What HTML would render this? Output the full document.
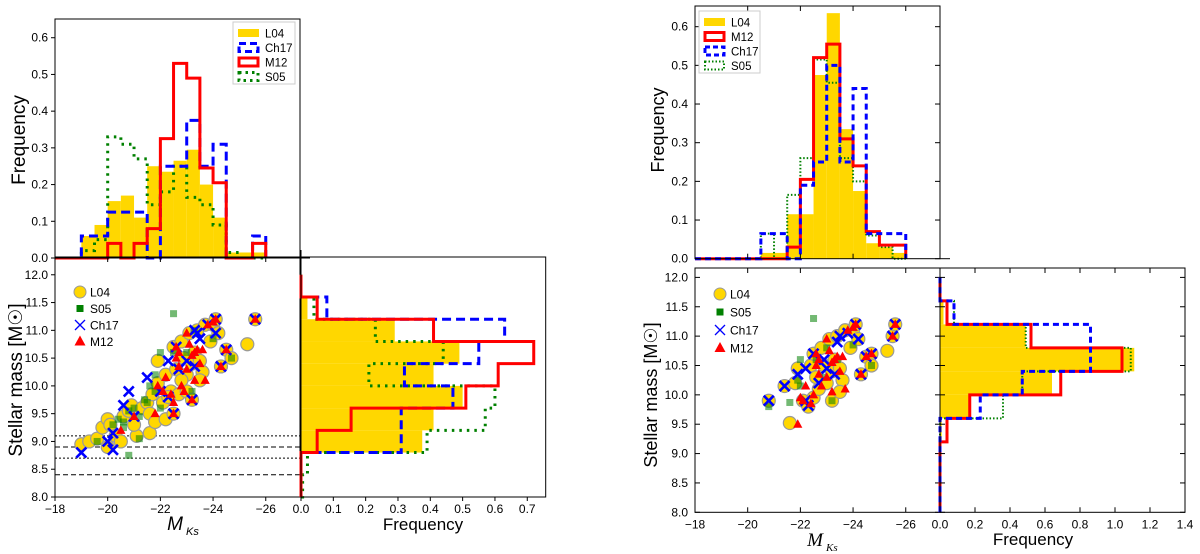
<!DOCTYPE html>
<html><head><meta charset="utf-8"><style>
html,body{margin:0;padding:0;background:#fff;}
svg{display:block;font-family:"Liberation Sans","DejaVu Sans",sans-serif;}
</style></head><body>
<svg id="fig" width="1200" height="554" viewBox="0 0 1200 554" xmlns="http://www.w3.org/2000/svg"></svg>
<script>
// ---------- DATA ----------
const magEdges = [-18,-18.5,-19,-19.5,-20,-20.5,-21,-21.5,-22,-22.5,-23,-23.5,-24,-24.5,-25,-25.5,-26];
const massEdges = [8.0,8.4,8.8,9.2,9.6,10.0,10.4,10.8,11.2,11.6,12.0];
const topL_L04  = [0,0,0.06,0.09,0.155,0.17,0.11,0.25,0.235,0.265,0.295,0.2,0.11,0.015,0.015,0.015];
const topL_Ch17 = [0,0,0.06,0.06,0.125,0.125,0.125,0,0.25,0.25,0.375,0.25,0.31,0,0,0.06];
const topL_M12  = [0,0,0,0,0.04,0,0.04,0.08,0.325,0.53,0.49,0.245,0.205,0,0,0.04];
const topL_S05  = [0,0,0.02,0.05,0.33,0.31,0.27,0.145,0.18,0.25,0.165,0.145,0.09,0.015,0,0];
const rhL_L04  = [0,0,0.375,0.41,0.5,0.41,0.49,0.29,0.02,0];
const rhL_Ch17 = [0,0,0.31,0.31,0.47,0.32,0.55,0.63,0.08,0];
const rhL_M12  = [0,0,0.05,0.155,0.51,0.61,0.72,0.41,0.05,0];
const rhL_S05  = [0.005,0.02,0.39,0.57,0.6,0.21,0.44,0.23,0.04,0];
const topR_L04  = [0,0,0,0,0,0.015,0.015,0.115,0.115,0.475,0.635,0.335,0.175,0.04,0.03,0.015];
const topR_M12  = [0,0,0,0,0,0,0,0.03,0.205,0.52,0.555,0.31,0.24,0.07,0.035,0.035];
const topR_Ch17 = [0,0,0,0,0,0.065,0.065,0,0.19,0.25,0.5,0.25,0.44,0.065,0.065,0.065];
const topR_S05  = [0,0,0,0,0,0.065,0,0.165,0.26,0.515,0.455,0.26,0.2,0.06,0.03,0];
const rhR_L04  = [0,0,0,0.01,0.17,0.64,1.11,0.49,0.02,0];
const rhR_M12  = [0,0,0,0.04,0.17,0.69,1.04,0.52,0.04,0];
const rhR_Ch17 = [0,0,0,0,0.23,0.47,0.86,0.86,0.08,0];
const rhR_S05  = [0,0,0,0,0.36,0.47,1.09,0.49,0.08,0];
const scL_L04 = [[-19,8.95],[-19.3,9.0],[-19.6,9.05],[-19.8,9.25],[-20,9.4],[-20.1,9.3],[-20,8.9],[-20.3,9.1],[-20.5,9.0],[-20.6,9.45],[-20.8,9.55],[-20.9,9.65],[-21.1,9.1],[-21,9.3],[-21.3,9.6],[-21.5,9.7],[-21.6,9.15],[-21.6,9.5],[-21.8,9.35],[-21.7,9.85],[-21.9,10.05],[-21.9,10.45],[-22.1,9.7],[-22.2,10.2],[-22.2,9.4],[-22.4,9.9],[-22.5,9.5],[-22.5,10.7],[-22.6,10.3],[-22.7,9.85],[-22.8,10.8],[-22.9,10.5],[-23,9.9],[-23,10.2],[-23.1,10.95],[-23.2,9.75],[-23.2,10.4],[-23.3,10.6],[-23.4,11.0],[-23.5,10.45],[-23.6,10.25],[-23.7,11.1],[-23.9,10.8],[-24,11.1],[-24.1,11.2],[-24.2,10.95],[-24.3,10.35],[-24.5,10.65],[-24.7,10.5],[-25.3,10.75],[-25.6,11.2],[-22.3,9.8],[-22.8,10.1],[-23.5,10.1]];
const scL_S05 = [[-19.6,9.0],[-20.2,9.3],[-20.4,9.4],[-20.6,9.35],[-20.8,9.55],[-21,9.6],[-21.2,9.05],[-21.4,9.75],[-21.5,9.7],[-21.6,10.0],[-21.8,10.2],[-22,10.6],[-22.5,11.3],[-20.8,8.75],[-22.0,9.6],[-22.5,10.6],[-23,10.6],[-23.3,11.0],[-24,10.85],[-24.7,10.5],[-23.2,9.9],[-21.8,9.9],[-21.2,9.45],[-20.6,9.25]];
const scL_Ch17 = [[-19,8.8],[-20,9.0],[-20.2,9.15],[-20.2,8.85],[-20.6,9.65],[-20.8,9.9],[-21,9.45],[-21.5,10.15],[-22,9.9],[-22.3,10.45],[-22.3,9.8],[-22.5,9.5],[-22.6,10.7],[-22.7,10.3],[-23,10.45],[-23.2,9.75],[-23.3,10.35],[-23.4,10.95],[-23.5,10.85],[-24.1,11.2],[-24.1,10.95],[-24.3,10.35],[-24.5,10.65],[-25.6,11.2],[-23.8,11.1],[-23.3,11.0]];
const scL_M12 = [[-20.5,9.2],[-21.0,9.45],[-21.8,9.5],[-21.9,10.0],[-22.1,9.9],[-22.2,10.15],[-22.4,9.85],[-22.5,9.7],[-22.5,9.5],[-22.6,10.5],[-22.7,10.35],[-22.7,10.6],[-22.8,10.0],[-22.9,9.9],[-23,10.3],[-23.1,10.75],[-23.2,9.75],[-23.3,10.6],[-23.3,10.1],[-23.4,10.65],[-23.5,10.4],[-23.6,10.65],[-23.7,10.1],[-23.8,11.1],[-24,11.15],[-24.1,11.2],[-24.3,10.35],[-24.5,10.65],[-25.6,11.2],[-23.0,10.95],[-22.6,10.7],[-23.2,10.55]];
const scR_L04 = [[-20.8,9.9],[-21.4,10.15],[-21.6,9.52],[-21.9,10.45],[-21.8,10.2],[-22.1,9.9],[-22.3,9.8],[-22.4,10.5],[-22.5,10.7],[-22.5,9.95],[-22.6,10.3],[-22.7,10.1],[-22.8,10.8],[-22.9,10.5],[-23,10.2],[-23.1,10.95],[-23.2,9.9],[-23.2,10.4],[-23.3,10.6],[-23.4,11.0],[-23.5,10.45],[-23.6,10.25],[-23.7,11.1],[-23.9,10.8],[-24,11.1],[-24.1,11.2],[-24.2,10.95],[-24.3,10.35],[-24.5,10.65],[-24.7,10.7],[-24.7,10.5],[-25.3,10.75],[-25.5,11.0],[-25.6,11.2],[-23.5,10.05]];
const scR_S05 = [[-20.8,9.8],[-21.6,9.87],[-22,10.6],[-22.5,11.3],[-21.9,10.25],[-22,10.15],[-22.6,10.6],[-23,10.8],[-23.2,9.9],[-24,10.85],[-24.7,10.5],[-23.4,10.6],[-22.9,10.3]];
const scR_Ch17 = [[-20.8,9.9],[-21.4,10.15],[-21.9,10.35],[-22.2,10.45],[-22.3,9.82],[-22.5,10.7],[-22.7,10.2],[-23,10.45],[-23.3,10.35],[-23.4,10.9],[-23.5,11.0],[-23.8,11.05],[-24.1,11.2],[-24.2,10.95],[-24.3,10.35],[-24.5,10.65],[-24.7,10.7],[-25.5,11.0],[-25.6,11.2],[-22.9,10.6],[-22.2,9.9]];
const scR_M12 = [[-21.9,9.5],[-22,9.95],[-22.1,9.9],[-22.2,10.15],[-22.4,9.85],[-22.5,10.0],[-22.6,10.5],[-22.7,10.35],[-22.7,10.6],[-22.8,10.15],[-23,10.3],[-23.1,10.75],[-23.2,10.05],[-23.3,10.6],[-23.4,10.65],[-23.5,10.4],[-23.6,10.65],[-23.7,10.1],[-23.8,11.1],[-24,11.15],[-24.1,11.2],[-24.3,10.35],[-24.5,10.65],[-24.7,10.7],[-25.5,11.0],[-25.6,11.2],[-23.0,10.95],[-22.6,10.7],[-23.2,10.55]];
const magTicks = [-18,-20,-22,-24,-26];
const magTickLabels = ["\u221218","\u221220","\u221222","\u221224","\u221226"];
const massTicks = [8.0,8.5,9.0,9.5,10.0,10.5,11.0,11.5,12.0];
const freqTicksTop = [0,0.1,0.2,0.3,0.4,0.5,0.6];
const freqTicksL = [0,0.1,0.2,0.3,0.4,0.5,0.6,0.7];
const freqTicksR = [0,0.2,0.4,0.6,0.8,1.0,1.2,1.4];
const limitLines = [[9.1,"2,2"],[8.9,"5,3"],[8.7,"2,2"],[8.4,"5,3"]];

// ---------- HELPERS ----------
const svg = document.getElementById('fig');
const NS = 'http://www.w3.org/2000/svg';
function mk(tag, attrs, parent){const e=document.createElementNS(NS,tag);for(const k in attrs)e.setAttribute(k,attrs[k]);(parent||svg).appendChild(e);return e;}
function scale(d0,d1,r0,r1){return v=>r0+(v-d0)*(r1-r0)/(d1-d0);}
function ax(x0,x1,y0,y1,xd,yd){return {x0,x1,y0,y1,sx:scale(xd[0],xd[1],x0,x1),sy:scale(yd[0],yd[1],y1,y0)};}
const topL = ax(55,300,19,258,[-18,-27.3],[0,0.651]);
const scL  = ax(55,300,257,497,[-18,-27.3],[8,12.32]);
const rhL  = ax(301,545.7,257,497,[0,0.757],[8,12.32]);
const topR = ax(695,940,6,258.7,[-18,-27.3],[0,0.6535]);
const scR  = ax(695,940,268,512.3,[-18,-27.3],[8,12.16]);
const rhR  = ax(940,1185,268,512.3,[0,1.4],[8,12.16]);

function frame(a,name){const r=mk('rect',{x:a.x0,y:a.y0,width:a.x1-a.x0,height:a.y1-a.y0,fill:'none',stroke:'#000','stroke-width':1});
}
function vhist(a,vals,style,fill,name){
  const g=mk('g',{});
  if(fill){vals.forEach((v,i)=>{if(v<=0)return;const xa=a.sx(magEdges[i]),xb=a.sx(magEdges[i+1]);
    const r=mk('rect',{x:xa,y:a.sy(v),width:xb-xa,height:a.sy(0)-a.sy(v),fill:fill},g);
    });return;}
  let d='M'+a.sx(magEdges[0])+','+a.sy(0);
  vals.forEach((v,i)=>{d+=' L'+a.sx(magEdges[i])+','+a.sy(v)+' L'+a.sx(magEdges[i+1])+','+a.sy(v);});
  d+=' L'+a.sx(magEdges[magEdges.length-1])+','+a.sy(0);
  const p=mk('path',Object.assign({d:d,fill:'none'},style),g);
  }
function hhist(a,vals,style,fill,name){
  const g=mk('g',{});
  if(fill){vals.forEach((v,i)=>{if(v<=0)return;const ya=a.sy(massEdges[i+1]),yb=a.sy(massEdges[i]);
    const r=mk('rect',{x:a.sx(0),y:ya,width:a.sx(v)-a.sx(0),height:yb-ya,fill:fill},g);
    });return;}
  let d='M'+a.sx(0)+','+a.sy(massEdges[0]);
  vals.forEach((v,i)=>{d+=' L'+a.sx(v)+','+a.sy(massEdges[i])+' L'+a.sx(v)+','+a.sy(massEdges[i+1]);});
  d+=' L'+a.sx(0)+','+a.sy(massEdges[massEdges.length-1]);
  const p=mk('path',Object.assign({d:d,fill:'none'},style),g);
  }
function text(x,y,s,size,anchor,name,extra){const t=mk('text',Object.assign({x:x,y:y,'font-size':size,'text-anchor':anchor||'middle',fill:'#000'},extra||{}));t.textContent=s;
  return t;}
function xticks(a,ticks,labels,inward,name){ticks.forEach((t,i)=>{const x=a.sx(t);
  mk('line',{x1:x,x2:x,y1:a.y1,y2:inward?a.y1-5:a.y1+4,stroke:'#000','stroke-width':1});
  if(inward)mk('line',{x1:x,x2:x,y1:a.y0,y2:a.y0+5,stroke:'#000','stroke-width':1});
  if(labels)text(x,a.y1+16,labels[i],12,'middle',name+'-label');});}
function yticks(a,ticks,fmt,inward,name,showLabels){ticks.forEach(t=>{const y=a.sy(t);
  mk('line',{x1:a.x0,x2:inward?a.x0+5:a.x0-4,y1:y,y2:y,stroke:'#000','stroke-width':1});
  if(inward)mk('line',{x1:a.x1,x2:a.x1-5,y1:y,y2:y,stroke:'#000','stroke-width':1});
  if(showLabels)text(a.x0-7,y+4,fmt(t),12,'end',name+'-label');});}
function xticksFreq(a,ticks,inward,name){ticks.forEach(t=>{const x=a.sx(t);
  mk('line',{x1:x,x2:x,y1:a.y1,y2:inward?a.y1-5:a.y1+4,stroke:'#000','stroke-width':1});
  if(inward)mk('line',{x1:x,x2:x,y1:a.y0,y2:a.y0+5,stroke:'#000','stroke-width':1});
  text(x,a.y1+16,t.toFixed(1),12,'middle',name+'-label');});}

const cL04='#FFD700', cCh='#0000FF', cM='#FF0000', cS='#008000';
const stCh={stroke:cCh,'stroke-width':3,'stroke-dasharray':'9,5'};
const stM={stroke:cM,'stroke-width':3};
const stS={stroke:cS,'stroke-width':3,'stroke-dasharray':'2.5,5'};
const stChR={stroke:cCh,'stroke-width':3,'stroke-dasharray':'6,4'};
const stSR={stroke:cS,'stroke-width':2,'stroke-dasharray':'1.5,2'};

function scatter(a,L04,S05,Ch,M,name,sAlpha){
  const g=mk('g',{});
  L04.forEach(p=>{const c=mk('circle',{cx:a.sx(p[0]),cy:a.sy(p[1]),r:6.5,fill:cL04,stroke:'#999','stroke-width':1.2},g);
    });
  S05.forEach(p=>{const r=mk('rect',{x:a.sx(p[0])-3.5,y:a.sy(p[1])-3.5,width:7,height:7,fill:cS,opacity:sAlpha},g);
    });
  Ch.forEach(p=>{const x=a.sx(p[0]),y=a.sy(p[1]);const d=5;
    const pth=mk('path',{d:`M${x-d},${y-d}L${x+d},${y+d}M${x-d},${y+d}L${x+d},${y-d}`,stroke:cCh,'stroke-width':2.6,fill:'none'},g);
    });
  M.forEach(p=>{const x=a.sx(p[0]),y=a.sy(p[1]);
    const t=mk('path',{d:`M${x},${y-5}L${x+4.6},${y+3.5}L${x-4.6},${y+3.5}Z`,fill:cM},g);
    });
}
function scLegend(x,y,dy,name){
  const g=mk('g',{});
  mk('circle',{cx:x,cy:y,r:6,fill:cL04,stroke:'#999'},g);
  mk('rect',{x:x-3.5,y:y+dy-3.5,width:7,height:7,fill:cS},g);
  mk('path',{d:`M${x-5},${y+2*dy-5}L${x+5},${y+2*dy+5}M${x-5},${y+2*dy+5}L${x+5},${y+2*dy-5}`,stroke:cCh,'stroke-width':1.3},g);
  mk('path',{d:`M${x},${y+3*dy-6}L${x+5.5},${y+3*dy+4}L${x-5.5},${y+3*dy+4}Z`,fill:cM},g);
  ['L04','S05','Ch17','M12'].forEach((s,i)=>text(x+10,y+i*dy+4.5,s,12,'start','legend-entry-'+s.toLowerCase()));
}
function hLegend(x,y,w,entries,name){
  const g=mk('g',{});
  mk('rect',{x:x,y:y,width:w,height:62,fill:'#fff',stroke:'#ccc'},g);
  entries.forEach((e,i)=>{const yy=y+11+i*14.5;
    if(e[1]==='fill')mk('rect',{x:x+5,y:yy-4,width:21,height:8,fill:cL04},g);
    else mk('rect',Object.assign({x:x+6,y:yy-4,width:19,height:8,fill:'none'},e[1]),g);
    text(x+32,yy+4.5,e[0],11.5,'start','legend-entry-'+e[0].toLowerCase());});
}

// ---------- LEFT FIGURE ----------
vhist(topL,topL_L04,null,cL04,'top-left-l04-hist');
vhist(topL,topL_S05,stS,null,'top-left-s05-hist');
vhist(topL,topL_Ch17,stCh,null,'top-left-ch17-hist');
vhist(topL,topL_M12,stM,null,'top-left-m12-hist');
frame(topL,'top-left-axes');
mk('line',{x1:300,x2:310,y1:258,y2:258,stroke:'#000'});
xticks(topL,magTicks,null,false,'top-left-xtick');
yticks(topL,freqTicksTop,t=>t.toFixed(1),false,'top-left-ytick',true);
text(25,140,'Frequency',19,'middle','top-left-y-axis-title',{transform:'rotate(-90 25 140)'});
hLegend(233,22,62,[['L04','fill'],['Ch17',{stroke:cCh,'stroke-width':3,'stroke-dasharray':'7,4'}],['M12',stM],['S05',{stroke:cS,'stroke-width':3,'stroke-dasharray':'2.5,4'}]],'top-left-legend');

limitLines.forEach(l=>{const y=scL.sy(l[0]);const ln=mk('line',{x1:55,x2:300,y1:y,y2:y,stroke:'#000','stroke-width':1,'stroke-dasharray':l[1]});
  });
scatter(scL,scL_L04,scL_S05,scL_Ch17,scL_M12,'left-scatter',0.55);
frame(scL,'left-scatter-axes');
xticks(scL,magTicks,magTickLabels,false,'left-scatter-xtick');
yticks(scL,massTicks,t=>t.toFixed(1),false,'left-scatter-ytick',true);
scLegend(80,292,16.5,'left-scatter-legend');
text(175,530,'M',19,'middle','left-x-axis-title',{'font-style':'italic'});
text(186,535,'Ks',11,'start','left-x-axis-subscript',{'font-style':'italic'});
text(22,380,'Stellar mass [M\u2609]',19,'middle','left-y-axis-title',{transform:'rotate(-90 22 380)'});

hhist(rhL,rhL_L04,null,cL04,'right-left-l04-hist');
hhist(rhL,rhL_S05,stS,null,'right-left-s05-hist');
hhist(rhL,rhL_Ch17,stCh,null,'right-left-ch17-hist');
hhist(rhL,rhL_M12,stM,null,'right-left-m12-hist');
frame(rhL,'right-left-axes');
mk('line',{x1:301,x2:301,y1:250,y2:497,stroke:'#000'});
xticksFreq(rhL,freqTicksL,false,'right-left-xtick');
text(423,530,'Frequency',17,'middle','right-left-x-axis-title');

// ---------- RIGHT FIGURE ----------
vhist(topR,topR_L04,null,cL04,'top-right-l04-hist');
vhist(topR,topR_S05,stSR,null,'top-right-s05-hist');
vhist(topR,topR_M12,stM,null,'top-right-m12-hist');
vhist(topR,topR_Ch17,stChR,null,'top-right-ch17-hist');
frame(topR,'top-right-axes');
mk('line',{x1:940,x2:950,y1:258.7,y2:258.7,stroke:'#000'});
xticks(topR,magTicks,null,true,'top-right-xtick');
yticks(topR,freqTicksTop,t=>t.toFixed(1),true,'top-right-ytick',true);
text(664,130,'Frequency',18,'middle','top-right-y-axis-title',{transform:'rotate(-90 664 130)'});
hLegend(699,11,61,[['L04','fill'],['M12',stM],['Ch17',{stroke:cCh,'stroke-width':3,'stroke-dasharray':'5,3'}],['S05',{stroke:cS,'stroke-width':2,'stroke-dasharray':'1.5,2'}]],'top-right-legend');

scatter(scR,scR_L04,scR_S05,scR_Ch17,scR_M12,'right-scatter',0.55);
frame(scR,'right-scatter-axes');
xticks(scR,magTicks,magTickLabels,true,'right-scatter-xtick');
yticks(scR,massTicks,t=>t.toFixed(1),true,'right-scatter-ytick',true);
scLegend(720,294,18,'right-scatter-legend');
text(815,546,'M',19,'middle','right-x-axis-title',{'font-family':'Liberation Serif, serif','font-style':'italic'});
text(826,551,'Ks',11,'start','right-x-axis-subscript',{'font-family':'Liberation Serif, serif','font-style':'italic'});
text(657,395,'Stellar mass [M\u2609]',18,'middle','right-y-axis-title',{transform:'rotate(-90 657 395)'});

hhist(rhR,rhR_L04,null,cL04,'right-right-l04-hist');
hhist(rhR,rhR_S05,stSR,null,'right-right-s05-hist');
hhist(rhR,rhR_M12,stM,null,'right-right-m12-hist');
hhist(rhR,rhR_Ch17,stChR,null,'right-right-ch17-hist');
frame(rhR,'right-right-axes');
yticks(rhR,massTicks,t=>'',true,'right-right-ytick',false);
xticksFreq(rhR,freqTicksR,true,'right-right-xtick');
text(1033,545,'Frequency',17,'middle','right-right-x-axis-title');
</script>
</body></html>
